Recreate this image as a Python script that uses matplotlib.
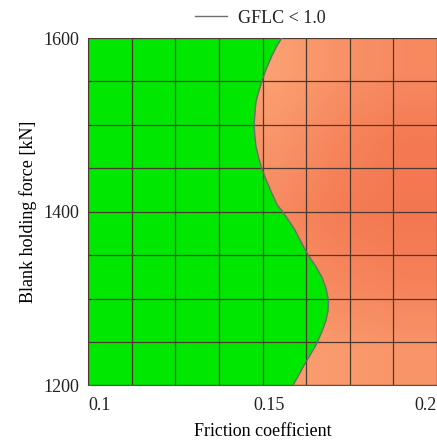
import matplotlib
matplotlib.use("Agg")
import matplotlib.pyplot as plt
import matplotlib.transforms as mtransforms
from matplotlib.colors import LinearSegmentedColormap
from matplotlib.ticker import MultipleLocator
import numpy as np

plt.rcParams["font.family"] = ["Liberation Serif", "DejaVu Serif"]
plt.rcParams["text.color"] = "#222222"
plt.rcParams["xtick.color"] = "#222222"
plt.rcParams["ytick.color"] = "#222222"

# boundary of the GFLC < 1.0 region
BOUNDARY_FORCE = [1600, 1591, 1579, 1564, 1550, 1537, 1526, 1512, 1501, 1487,
                  1476, 1462, 1450, 1437, 1422, 1408, 1400, 1390, 1379, 1364,
                  1350, 1337, 1325, 1312, 1298, 1287, 1275, 1262, 1248, 1235,
                  1222, 1210, 1200]
BOUNDARY_MU = [0.1555, 0.1541, 0.1526, 0.1510, 0.1498, 0.1488, 0.1481, 0.1478,
               0.1476, 0.1478, 0.1481, 0.1489, 0.1498, 0.1510, 0.1526, 0.1542,
               0.1558, 0.1575, 0.1593, 0.1612, 0.1631, 0.1653, 0.1670, 0.1682,
               0.1689, 0.1688, 0.1682, 0.1670, 0.1655, 0.1636, 0.1617, 0.1601,
               0.1587]

# shading of the failed region (0 = light, 1 = dark), rows 1200..1600, cols 0.145..0.2
SHADE_MU = [0.145, 0.1725, 0.2]
SHADE_FORCE = [1200, 1300, 1400, 1500, 1600]
SHADE = [
    [0.20, 0.25, 0.35],
    [0.45, 0.60, 0.70],
    [0.55, 0.80, 0.90],
    [0.35, 0.65, 0.85],
    [0.15, 0.40, 0.55],
]

X_TICKS = [0.1, 0.15, 0.2]
X_TICK_LABELS = ["0.1", "0.15", "0.2"]
Y_TICKS = [1200, 1400, 1600]

GREEN = "#00e800"
GRID = "#4a3a30"
salmon = LinearSegmentedColormap.from_list("salmon", ["#fca878", "#f3714c"])

fig = plt.figure(figsize=(4.37, 4.41), dpi=100)
ax = fig.add_axes([0.2014, 0.1259, 0.7986, 0.7879])

ax.imshow(np.array(SHADE), cmap=salmon, vmin=0, vmax=1, origin="lower",
          extent=[SHADE_MU[0], SHADE_MU[-1], SHADE_FORCE[0], SHADE_FORCE[-1]],
          aspect="auto", interpolation="bilinear", zorder=0)
ax.fill_betweenx(BOUNDARY_FORCE, 0.1, BOUNDARY_MU, color=GREEN, lw=0, zorder=1)
ax.plot(BOUNDARY_MU, BOUNDARY_FORCE, color="#6e6e6e", lw=1.0, zorder=3,
        label="GFLC < 1.0")

ax.set_xlim(0.1, 0.2)
ax.set_ylim(1200, 1600)
ax.set_xticks(X_TICKS)
ax.set_xticklabels(X_TICK_LABELS)
ax.set_yticks(Y_TICKS)
ax.xaxis.set_minor_locator(MultipleLocator(0.0125))
ax.yaxis.set_minor_locator(MultipleLocator(50))
ax.set_axisbelow(False)
ax.grid(which="both", color=GRID, lw=0.9)
ax.tick_params(which="both", length=0, labelsize=13)
ax.tick_params(axis="x", pad=8)
ax.tick_params(axis="y", pad=6)

labels = ax.get_xticklabels()
labels[0].set_ha("left")
labels[1].set_transform(labels[1].get_transform() +
                        mtransforms.ScaledTranslation(0.07, 0, fig.dpi_scale_trans))
labels[2].set_ha("right")

for side in ["left", "bottom", "right"]:
    ax.spines[side].set_color("#555555")
    ax.spines[side].set_linewidth(0.8)
ax.spines["top"].set_color("#bbbbbb")
ax.spines["top"].set_linewidth(0.6)

ax.set_xlabel("Friction coefficient", fontsize=13, labelpad=7)
ax.set_ylabel("Blank holding force [kN]", fontsize=13, labelpad=5)

fig.legend(loc="center", bbox_to_anchor=(0.595, 0.959), frameon=False,
           fontsize=13, handlelength=1.8, handletextpad=0.6)

fig.savefig("out.png", dpi=100)
